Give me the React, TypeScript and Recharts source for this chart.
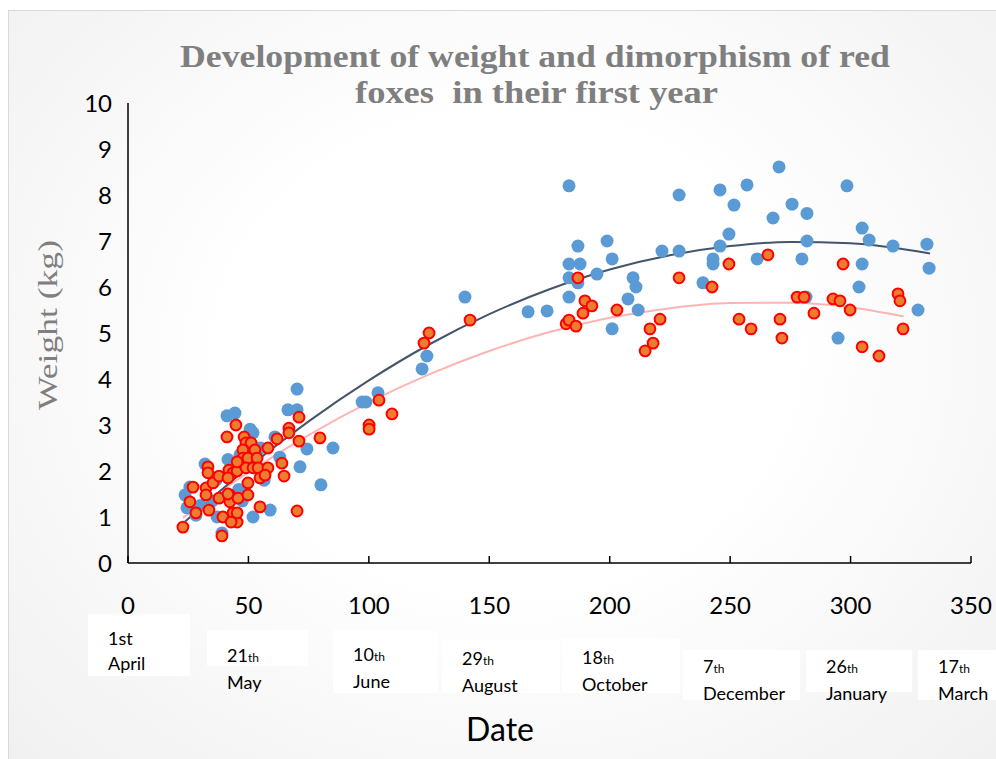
import { ComposedChart, Line, Scatter, XAxis, YAxis } from "recharts";

// weight (kg) against days since 1st April
const maleWeights: [number, number][] = [
  [23.7, 1.48], [25.7, 1.65], [28.2, 1.04], [32.0, 2.15], [37.0, 1.0], [39.0, 0.65],
  [41.1, 3.2], [44.4, 3.26], [50.7, 2.91], [51.9, 2.83], [51.9, 1.0], [59.0, 1.15],
  [61.0, 2.74], [66.4, 3.33], [70.2, 3.33], [70.2, 3.78], [71.4, 2.09], [74.3, 2.48],
  [80.1, 1.7], [85.1, 2.5], [97.2, 3.5], [98.8, 3.5], [103.8, 3.7], [122.1, 4.22],
  [124.1, 4.5], [139.9, 5.78], [166.1, 5.46], [174.0, 5.48], [183.1, 8.2], [186.8, 6.89],
  [198.9, 7.0], [201.0, 6.61], [183.1, 6.5], [187.7, 6.5], [183.1, 6.2], [186.8, 6.09],
  [194.7, 6.28], [183.1, 5.78], [207.6, 5.74], [209.7, 6.2], [210.9, 6.0], [211.8, 5.5],
  [201.0, 5.09], [221.7, 6.78], [228.8, 8.0], [228.8, 6.78], [238.7, 6.09], [242.9, 6.61],
  [242.9, 6.5], [245.8, 8.11], [245.8, 6.89], [249.5, 7.15], [251.6, 7.78], [257.0, 8.22],
  [261.2, 6.61], [267.8, 7.5], [270.3, 8.61], [275.7, 7.8], [279.8, 6.61], [281.9, 7.6],
  [281.9, 7.0], [281.5, 5.78], [294.8, 4.89], [298.5, 8.2], [304.8, 7.28], [304.8, 6.5],
  [303.5, 6.0], [307.7, 7.02], [317.6, 6.89], [328.0, 5.5], [331.7, 6.93], [332.6, 6.41],
  [46.5, 2.35], [48.9, 2.7], [55.0, 2.5], [56.5, 1.8], [46.0, 1.6], [36.5, 1.8],
  [41.5, 2.25], [30.0, 1.25], [35.0, 1.35], [47.5, 1.35], [24.5, 1.2], [63.0, 2.3],
];

const femaleWeights: [number, number][] = [
  [22.8, 0.78], [28.2, 1.09], [25.7, 1.33], [27.0, 1.65], [32.4, 1.63], [32.4, 1.48],
  [33.2, 2.09], [33.2, 1.96], [35.3, 1.74], [33.6, 1.15], [37.8, 1.89], [37.8, 1.41],
  [39.4, 1.0], [39.0, 0.59], [41.1, 2.74], [44.8, 3.0], [41.9, 2.02], [42.3, 1.48],
  [42.3, 1.33], [43.6, 1.96], [45.3, 2.0], [45.7, 1.41], [43.6, 1.09], [45.3, 0.89],
  [42.8, 0.89], [45.3, 1.09], [47.7, 2.17], [48.2, 2.74], [49.0, 2.61], [51.1, 2.61],
  [47.7, 2.46], [47.7, 2.28], [49.8, 2.28], [52.7, 2.46], [53.6, 2.28], [49.0, 2.07],
  [51.9, 2.07], [54.0, 2.07], [49.8, 1.74], [54.8, 1.85], [58.1, 2.07], [56.9, 1.91],
  [49.8, 1.48], [54.8, 1.22], [58.1, 2.5], [61.9, 2.7], [63.9, 2.17], [64.8, 1.89],
  [66.8, 2.93], [66.8, 2.83], [71.0, 3.17], [71.0, 2.65], [70.2, 1.13], [79.7, 2.72],
  [100.1, 3.0], [100.1, 2.91], [104.2, 3.54], [109.6, 3.24], [122.9, 4.78], [125.0, 5.0],
  [142.0, 5.28], [186.8, 6.2], [181.9, 5.2], [183.1, 5.28], [186.0, 5.15], [189.7, 5.7],
  [192.6, 5.59], [188.9, 5.43], [203.0, 5.5], [214.7, 4.61], [216.7, 5.09], [218.0, 4.78],
  [220.9, 5.3], [228.8, 6.2], [242.5, 6.0], [249.5, 6.5], [253.7, 5.3], [258.7, 5.09],
  [265.7, 6.7], [270.7, 5.3], [271.5, 4.89], [277.8, 5.78], [280.7, 5.78], [284.8, 5.43],
  [292.7, 5.74], [295.6, 5.7], [296.9, 6.5], [299.8, 5.5], [304.8, 4.7], [311.8, 4.5],
  [319.7, 5.85], [320.5, 5.7], [321.8, 5.09], [45.3, 2.2], [41.5, 1.85], [41.5, 1.5],
];

// trend lines
const maleTrend: [number, number][] = [
  [23.7, 0.9], [50, 2.08], [75, 3.08], [100, 3.97], [125, 4.75], [150, 5.41],
  [175, 5.95], [200, 6.38], [225, 6.69], [250, 6.89], [275, 6.98], [300, 6.95], [333, 6.73],
];
const femaleTrend: [number, number][] = [
  [22.8, 0.98], [50, 1.97], [75, 2.78], [100, 3.49], [125, 4.1], [150, 4.61],
  [175, 5.02], [200, 5.33], [225, 5.54], [250, 5.65], [275, 5.66], [300, 5.56], [322, 5.36],
];

const xTicks = [0, 50, 100, 150, 200, 250, 300, 350];
const yTicks = [0, 1, 2, 3, 4, 5, 6, 7, 8, 9, 10];
const dateLabels = [
  { day: "1st", suffix: "", month: "April" },
  { day: "21", suffix: "th", month: "May" },
  { day: "10", suffix: "th", month: "June" },
  { day: "29", suffix: "th", month: "August" },
  { day: "18", suffix: "th", month: "October" },
  { day: "7", suffix: "th", month: "December" },
  { day: "26", suffix: "th", month: "January" },
  { day: "17", suffix: "th", month: "March" },
];
// label boxes: left, top, width, height, text top
const dateBoxes = [
  [88, 614, 102, 62, 626],
  [207, 630, 101, 36, 643],
  [333, 630, 105, 63, 642],
  [442, 640, 118, 53, 646],
  [562, 638, 118, 55, 645],
  [683, 650, 117, 50, 654],
  [806, 650, 106, 42, 654],
  [918, 650, 78, 50, 654],
];

const toPoints = (rows: [number, number][]) => rows.map(([x, y]) => ({ x, y }));

const XTick = (props: any) => {
  const { x, y, payload } = props;
  return (
    <g>
      <line x1={x} x2={x} y1={y - 34} y2={y - 41} stroke="#000" strokeWidth={1.5} />
      <text x={x} y={y} dy="0.71em" textAnchor="middle" fontSize={24} fontFamily="Lato" fill="#000">
        {payload.value}
      </text>
    </g>
  );
};

const BlueDot = (p: any) => <circle cx={p.cx} cy={p.cy} r={6.5} fill="#5b9bd5" />;
const RedDot = (p: any) => (
  <circle cx={p.cx} cy={p.cy} r={5.4} fill="#ed7d31" stroke="#ff0000" strokeWidth={2} />
);

export default function App() {
  return (
    <div style={{ position: "absolute", left: 0, top: 0, width: 996, height: 759, overflow: "hidden" }}>
      <div
        style={{
          position: "absolute",
          left: 8,
          top: 10,
          width: 996,
          height: 760,
          border: "1px solid #d9d9d9",
          background: "radial-gradient(ellipse at 50% 45%, #ffffff 0%, #ffffff 40%, #f0f0f0 100%)",
        }}
      />
      {dateBoxes.map((b, i) => (
        <div
          key={i}
          style={{
            position: "absolute",
            left: b[0],
            top: b[1],
            width: b[2],
            height: b[3],
            background: "#ffffff",
          }}
        />
      ))}
      <div style={{ position: "absolute", left: 0, top: 0 }}>
        <ComposedChart width={996} height={759} margin={{ top: 103, right: 25, bottom: 166, left: 68 }}>
          <XAxis
            type="number"
            dataKey="x"
            domain={[0, 350]}
            ticks={xTicks}
            tickSize={0}
            tickMargin={34}
            tick={<XTick />}
            axisLine={{ stroke: "#000", strokeWidth: 1.5 }}
            allowDataOverflow
          />
          <YAxis
            type="number"
            dataKey="y"
            domain={[0, 10]}
            ticks={yTicks}
            width={60}
            tickSize={0}
            tickMargin={16}
            tickLine={false}
            axisLine={{ stroke: "#000", strokeWidth: 1.5 }}
            tick={{ fontSize: 24, fontFamily: "Lato", fill: "#000" }}
            allowDataOverflow
          />
          <Scatter data={toPoints(maleWeights)} shape={BlueDot} isAnimationActive={false} />
          <Scatter data={toPoints(femaleWeights)} shape={RedDot} isAnimationActive={false} />
          <Line
            data={toPoints(femaleTrend)}
            dataKey="y"
            type="monotone"
            stroke="#ffb4b4"
            strokeWidth={2}
            dot={false}
            activeDot={false}
            isAnimationActive={false}
          />
          <Line
            data={toPoints(maleTrend)}
            dataKey="y"
            type="monotone"
            stroke="#44546a"
            strokeWidth={2}
            dot={false}
            activeDot={false}
            isAnimationActive={false}
          />
        </ComposedChart>
      </div>
      <svg width={996} height={759} style={{ position: "absolute", left: 0, top: 0, pointerEvents: "none" }}>
        <g fontFamily="'Liberation Serif', 'DejaVu Serif', serif" fontWeight="bold" fill="#7f7f7f" fontSize={31}>
          <text x={180} y={67} textLength={710} lengthAdjust="spacingAndGlyphs">
            Development of weight and dimorphism of red
          </text>
          <text x={355} y={103} textLength={363} lengthAdjust="spacingAndGlyphs" style={{ whiteSpace: "pre" }}>
            {"foxes  in their first year"}
          </text>
        </g>
        <text
          transform="translate(57, 410) rotate(-90)"
          fontFamily="'Liberation Serif', serif"
          fontSize={28}
          fill="#7f7f7f"
          textLength={170}
          lengthAdjust="spacingAndGlyphs"
        >
          Weight (kg)
        </text>
        <text x={500} y={741} textAnchor="middle" fontFamily="Lato" fontSize={32} fill="#000">
          Date
        </text>
      </svg>
      {dateLabels.map((d, i) => {
        const b = dateBoxes[i];
        return (
          <div
            key={d.month}
            style={{
              position: "absolute",
              left: b[0] + 20,
              top: b[4],
              fontFamily: "Lato",
              fontSize: 18,
              lineHeight: "25px",
              color: "#000",
              whiteSpace: "nowrap",
            }}
          >
            <div>
              {d.day}
              {d.suffix && <span style={{ fontSize: 12 }}>{d.suffix}</span>}
            </div>
            <div>{d.month}</div>
          </div>
        );
      })}
    </div>
  );
}
